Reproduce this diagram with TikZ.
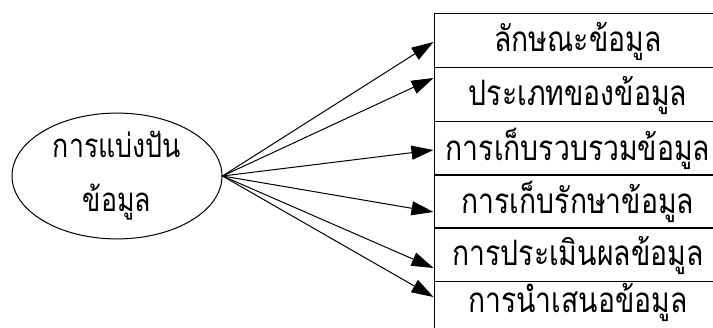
\documentclass[tikz,border=0pt]{standalone}
\usepackage{fontspec}
\newfontfamily\thaifont[Script=Thai,FakeStretch=0.81]{Loma}
\usetikzlibrary{arrows.meta,shapes.geometric}
\tikzset{
  rowbox/.style={draw, line width=1pt, minimum width=288pt, minimum height=54pt, inner sep=0pt, font=\thaifont\fontsize{35}{40}\selectfont},
  arr/.style={line width=1pt, -{Triangle[length=22pt,width=14pt]}},
}
\begin{document}
\begin{tikzpicture}[x=1pt,y=-1pt]
\useasboundingbox (0,0) rectangle (713,328);
\clip (0,0) rectangle (713,328);
\node[draw, ellipse, line width=1pt, minimum width=210pt, minimum height=116pt, inner sep=0pt, align=center, font=\thaifont\fontsize{33}{54}\selectfont] (e) at (117,176) {การแบ่งปัน\\ข้อมูล};
\node[rowbox] (r1) at (578,41) {ลักษณะข้อมูล};
\node[rowbox] (r2) at (578,95) {ประเภทของข้อมูล};
\node[rowbox] (r3) at (578,148.5) {การเก็บรวบรวมข้อมูล};
\node[rowbox] (r4) at (578,201.5) {การเก็บรักษาข้อมูล};
\node[rowbox] (r5) at (578,255) {การประเมินผลข้อมูล};
\node[rowbox, text depth=22pt] (r6) at (578,309) {การนำเสนอข้อมูล};
\draw[arr] (e.east) -- ([yshift=-1pt]r1.west);
\draw[arr] (e.east) -- ([yshift=17pt]r2.west);
\draw[arr] (e.east) -- ([yshift=-1.5pt]r3.west);
\draw[arr] (e.east) -- ([yshift=-10.5pt]r4.west);
\draw[arr] (e.east) -- ([yshift=-13pt]r5.west);
\draw[arr] (e.east) -- ([yshift=12pt]r6.west);
\end{tikzpicture}
\end{document}
